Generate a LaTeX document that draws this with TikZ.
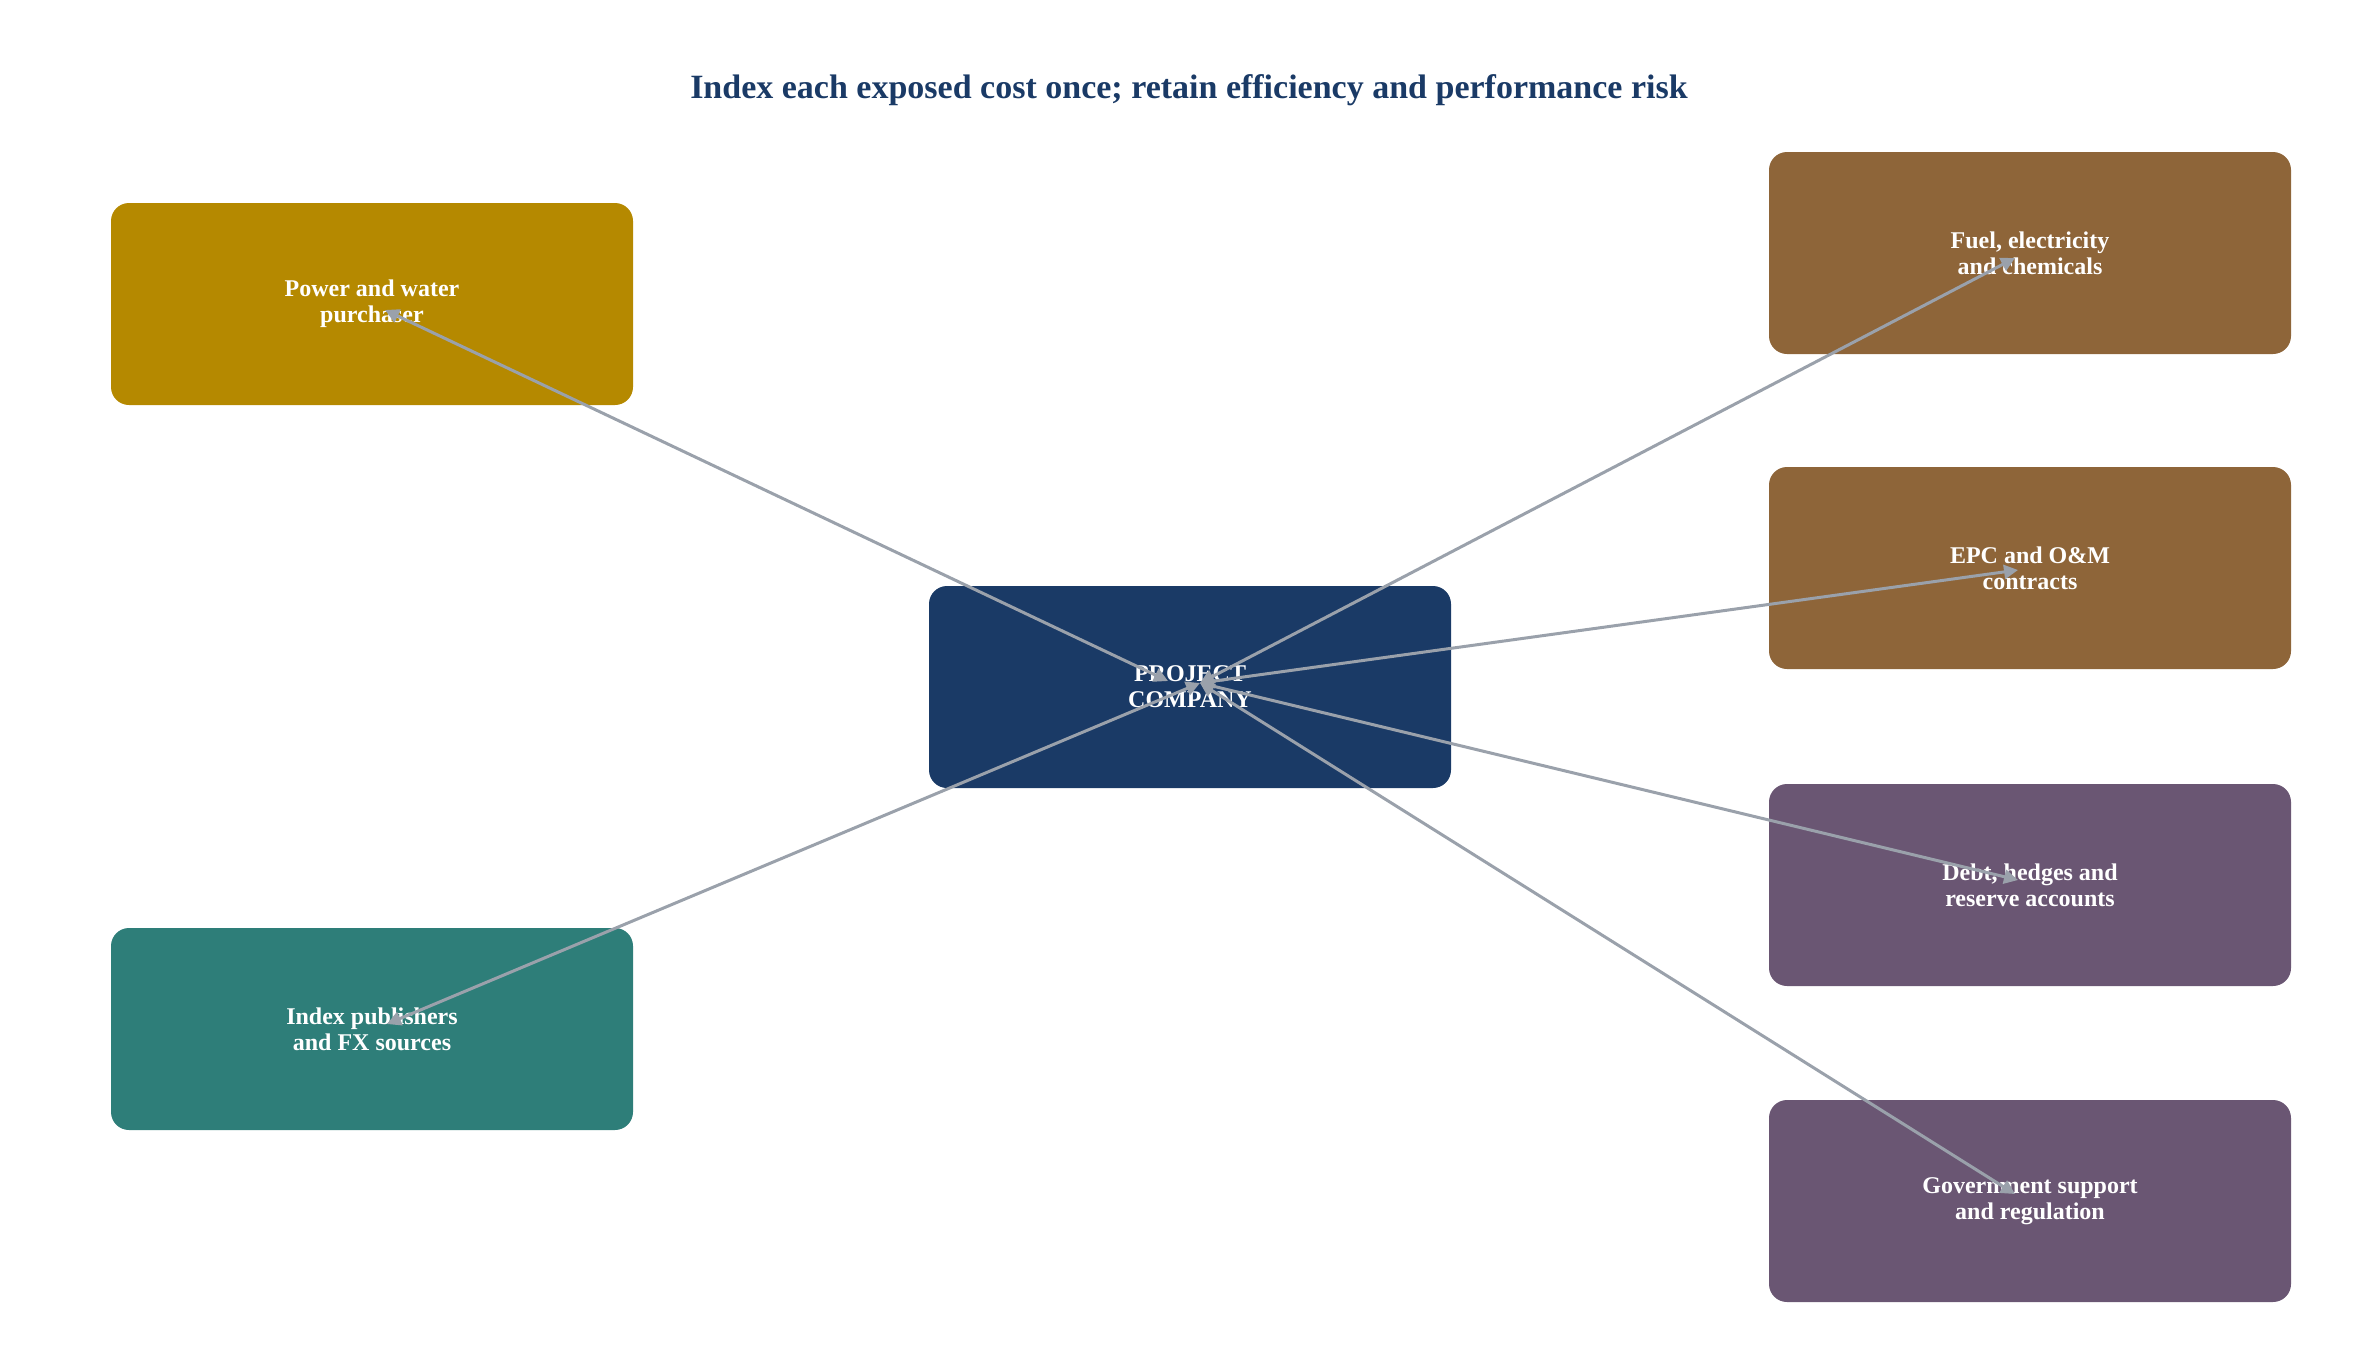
\documentclass[tikz,border=0pt]{standalone}
\usepackage{fontspec}
\setmainfont{Liberation Serif}
\usetikzlibrary{arrows.meta}
\definecolor{cgold}{HTML}{B58900}
\definecolor{cbrown}{HTML}{8E6539}
\definecolor{cpurple}{HTML}{6A5673}
\definecolor{cteal}{HTML}{2E7E79}
\definecolor{cnavy}{HTML}{1A3A66}
\definecolor{cedge}{HTML}{9AA1AB}
\tikzset{
  box/.style={rounded corners=9pt, minimum width=261pt, minimum height=101pt,
    text=white, font=\bfseries\fontsize{12}{13}\selectfont, align=center, inner sep=0pt},
  link/.style={draw=cedge, line width=1.5pt, {Triangle[length=7pt,width=7pt]}-{Triangle[length=7pt,width=7pt]}},
}
\begin{document}
\begin{tikzpicture}[x=0.5pt,y=-0.5pt]
\useasboundingbox (0,0) rectangle (2367,1355);
\node[text=cnavy, font=\bfseries\fontsize{17}{19}\selectfont] (title) at (1189,90) {Index each exposed cost once; retain efficiency and performance risk};
\node[box, fill=cgold] (power) at (372,304) {Power and water\\purchaser};
\node[box, fill=cteal] (index) at (372,1029) {Index publishers\\and FX sources};
\node[box, fill=cnavy] (proj) at (1190,687) {PROJECT\\COMPANY};
\node[box, fill=cbrown] (fuel) at (2030,253) {Fuel, electricity\\and chemicals};
\node[box, fill=cbrown] (epc) at (2030,568) {EPC and O\&M\\contracts};
\node[box, fill=cpurple] (debt) at (2030,885) {Debt, hedges and\\reserve accounts};
\node[box, fill=cpurple] (gov) at (2030,1201) {Government support\\and regulation};
\coordinate (pl) at (1168,681);
\coordinate (pr) at (1200,683);
\coordinate (powerE) at (385,310);
\coordinate (indexE) at (387,1024);
\coordinate (fuelE) at (2015,258);
\coordinate (epcE) at (2018,570);
\coordinate (debtE) at (2018,880);
\coordinate (govE) at (2015,1194);
\draw[link] (pl) -- (powerE);
\draw[link] (pr) -- (indexE);
\draw[link] (pr) -- (fuelE);
\draw[link] (pr) -- (epcE);
\draw[link] (pr) -- (debtE);
\draw[link] (pr) -- (govE);
\end{tikzpicture}
\end{document}
